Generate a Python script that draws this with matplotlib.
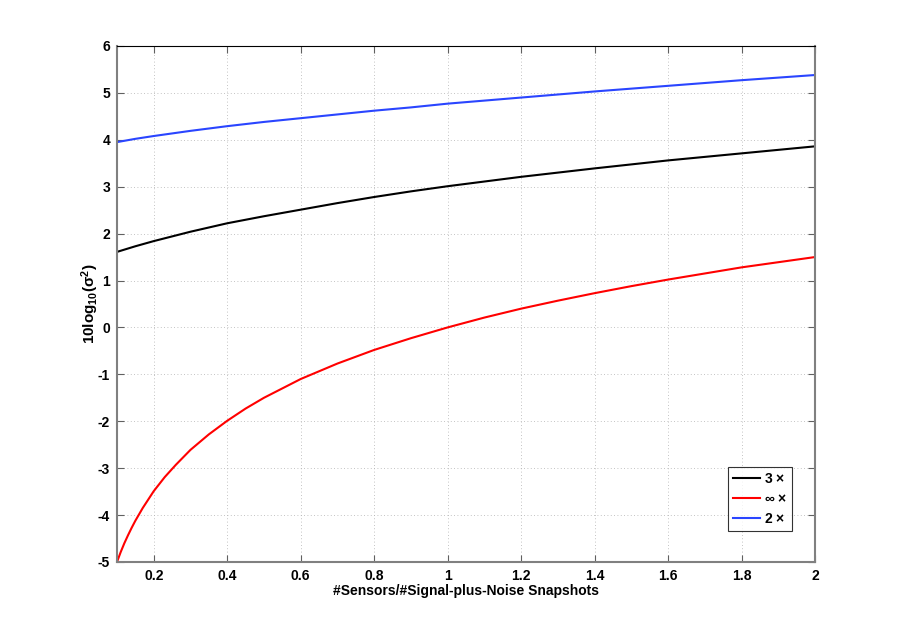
import matplotlib.pyplot as plt
from matplotlib.ticker import FixedLocator, FixedFormatter

## Data
x_red = [0.10, 0.11, 0.12, 0.13, 0.14, 0.15, 0.17, 0.20, 0.23, 0.26, 0.30, 0.35,
         0.40, 0.45, 0.50, 0.60, 0.70, 0.80, 0.90, 1.00, 1.10, 1.20, 1.30, 1.40,
         1.50, 1.60, 1.70, 1.80, 1.90, 2.00]
y_red = [-5.00, -4.79, -4.60, -4.43, -4.27, -4.12, -3.85, -3.49, -3.19, -2.93, -2.61, -2.28,
         -1.99, -1.73, -1.50, -1.10, -0.77, -0.48, -0.23, 0.00, 0.21, 0.40, 0.57, 0.73,
         0.88, 1.02, 1.15, 1.28, 1.39, 1.50]

x_black = [0.10, 0.15, 0.20, 0.30, 0.40, 0.50, 0.60, 0.70, 0.80, 0.90, 1.00,
           1.20, 1.40, 1.60, 1.80, 2.00]
y_black = [1.61, 1.73, 1.84, 2.04, 2.22, 2.37, 2.51, 2.65, 2.78, 2.90, 3.01,
           3.21, 3.39, 3.56, 3.71, 3.86]

x_blue = [0.10, 0.15, 0.20, 0.30, 0.40, 0.50, 0.60, 0.70, 0.80, 0.90, 1.00,
          1.20, 1.40, 1.60, 1.80, 2.00]
y_blue = [3.95, 4.02, 4.08, 4.19, 4.29, 4.38, 4.46, 4.54, 4.62, 4.69, 4.77,
          4.90, 5.03, 5.15, 5.27, 5.38]

xticks = [0.2, 0.4, 0.6, 0.8, 1.0, 1.2, 1.4, 1.6, 1.8, 2.0]
xtick_labels = ["0.2", "0.4", "0.6", "0.8", "1", "1.2", "1.4", "1.6", "1.8", "2"]
yticks = [-5, -4, -3, -2, -1, 0, 1, 2, 3, 4, 5, 6]
ytick_labels = ["-5", "-4", "-3", "-2", "-1", "0", "1", "2", "3", "4", "5", "6"]
legend_labels = [r"3 $\times$", r"$\infty$ $\times$", r"2 $\times$"]

## Style
plt.rcParams["font.family"] = ["Liberation Sans", "DejaVu Sans"]
plt.rcParams["font.weight"] = "bold"
plt.rcParams["mathtext.default"] = "regular"

fig = plt.figure(figsize=(9, 6.32), dpi=100)
ax = fig.add_axes([0.13, 0.1108, 0.7756, 0.8165])

ax.plot(x_black, y_black, color="black", lw=1.5, label=legend_labels[0])
ax.plot(x_red, y_red, color="#ff0000", lw=1.5, label=legend_labels[1])
ax.plot(x_blue, y_blue, color="#2a45ff", lw=1.5, label=legend_labels[2])

ax.set_xlim(0.1, 2.0)
ax.set_ylim(-5, 6)
ax.xaxis.set_major_locator(FixedLocator(xticks))
ax.xaxis.set_major_formatter(FixedFormatter(xtick_labels))
ax.yaxis.set_major_locator(FixedLocator(yticks))
ax.yaxis.set_major_formatter(FixedFormatter(ytick_labels))

ax.grid(True, linestyle=(0, (1, 3)), color="#b0b0b0", linewidth=0.6)
ax.tick_params(direction="in", length=5, width=0.8, top=True, right=True,
               labelsize=10, colors="#606060", labelcolor="black", pad=5)

for side in ["left", "bottom", "right"]:
    ax.spines[side].set_color("#808080")
    ax.spines[side].set_linewidth(1.5)
ax.spines["top"].set_color("black")
ax.spines["top"].set_linewidth(0.8)

ax.set_xlabel("#Sensors/#Signal-plus-Noise Snapshots", fontsize=10,
              fontweight="bold", labelpad=1)
ax.set_ylabel(r"10log$_{10}$($\sigma^2$)", fontsize=11, fontweight="bold", labelpad=-2)

leg = ax.legend(loc="lower right", bbox_to_anchor=(0.967, 0.06), fontsize=10,
                frameon=True, fancybox=False, handlelength=1.95, handletextpad=0.25,
                borderpad=0.35, labelspacing=0.45, borderaxespad=0)
leg.get_frame().set_edgecolor("black")
leg.get_frame().set_linewidth(0.8)

plt.savefig("out.png", dpi=100)
